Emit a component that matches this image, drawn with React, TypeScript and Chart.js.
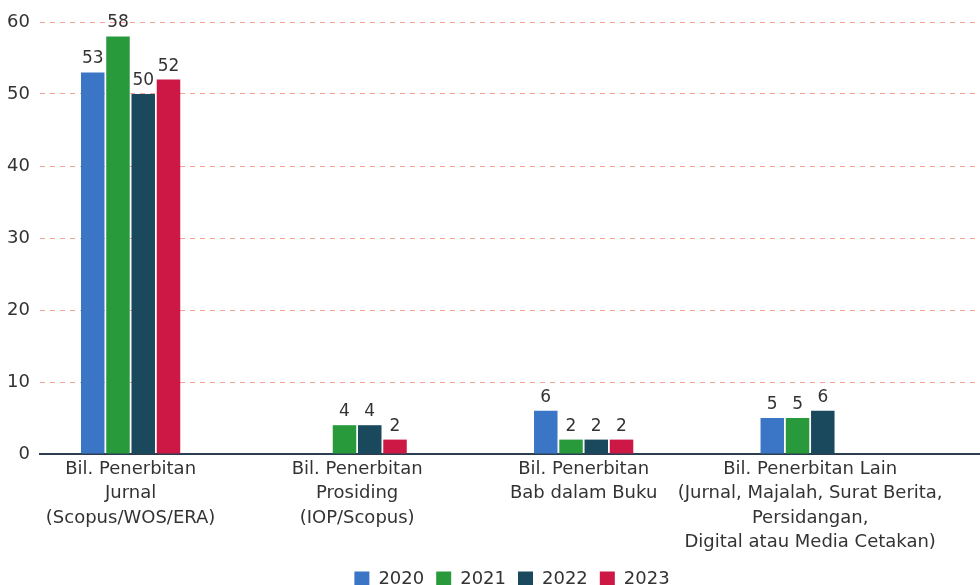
import { useEffect, useRef } from 'react';
import { Chart, registerables } from 'chart.js';

Chart.register(...registerables);

const categories: string[][] = [
  ['Bil. Penerbitan', 'Jurnal', '(Scopus/WOS/ERA)'],
  ['Bil. Penerbitan', 'Prosiding', '(IOP/Scopus)'],
  ['Bil. Penerbitan', 'Bab dalam Buku'],
  ['Bil. Penerbitan Lain', '(Jurnal, Majalah, Surat Berita,', 'Persidangan,', 'Digital atau Media Cetakan)'],
];
const years = ['2020', '2021', '2022', '2023'];
const values2020 = [53, 0, 6, 5];
const values2021 = [58, 4, 2, 5];
const values2022 = [50, 4, 2, 6];
const values2023 = [52, 2, 2, 0];
const seriesValues = [values2020, values2021, values2022, values2023];
const colors = ['#3b75c5', '#289a3c', '#1a495d', '#cd1745'];

const FONT = '"DejaVu Sans", sans-serif';
const TEXT = '#333333';

const valueLabels = {
  id: 'valueLabels',
  afterDatasetsDraw(chart: any) {
    const ctx = chart.ctx;
    ctx.save();
    ctx.font = `17px ${FONT}`;
    ctx.fillStyle = TEXT;
    ctx.textAlign = 'center';
    ctx.textBaseline = 'alphabetic';
    chart.data.datasets.forEach((ds: any, di: number) => {
      const meta = chart.getDatasetMeta(di);
      if (meta.hidden) return;
      meta.data.forEach((el: any, i: number) => {
        const v = ds.data[i].y;
        if (!v) return;
        ctx.fillText(String(v), el.x, el.y - 9);
      });
    });
    ctx.restore();
  },
};

export default function App() {
  const ref = useRef<HTMLCanvasElement>(null);

  useEffect(() => {
    if (!ref.current) return;
    Chart.defaults.font.family = FONT;
    const chart = new Chart(ref.current, {
      type: 'bar',
      data: {
        datasets: years.map((y, di) => ({
          label: y,
          data: seriesValues[di].map((v, i) => ({ x: i, y: v })),
          backgroundColor: colors[di],
          borderWidth: 0,
          categoryPercentage: 0.446,
          barPercentage: 0.93,
        })),
      },
      options: {
        responsive: false,
        animation: false,
        devicePixelRatio: 1,
        layout: { padding: { top: 22, left: 0, right: 0, bottom: 2 } },
        plugins: {
          tooltip: { enabled: false },
          legend: {
            position: 'bottom',
            labels: {
              boxWidth: 15,
              boxHeight: 15,
              padding: 12,
              color: TEXT,
              font: { size: 18, family: FONT },
            },
          },
        },
        scales: {
          x: {
            type: 'linear',
            offset: false,
            min: -0.4,
            max: 3.944,
            afterBuildTicks: (scale: any) => {
              scale.ticks = categories.map((_, i) => ({ value: i }));
            },
            afterFit: (scale: any) => {
              scale.height = 104;
            },
            grid: { display: false, drawTicks: false },
            border: { display: true, color: '#2c3e50', width: 2 },
            ticks: {
              autoSkip: false,
              maxRotation: 0,
              minRotation: 0,
              padding: 3,
              color: TEXT,
              font: { size: 18, family: FONT, lineHeight: 1.36 },
              callback: (v: any) => categories[v as number] ?? '',
            },
          },
          y: {
            min: 0,
            max: 60,
            afterFit: (scale: any) => {
              scale.width = 40;
            },
            grid: {
              drawTicks: false,
              color: (c: any) => (c.tick && c.tick.value === 0 ? 'rgba(0,0,0,0)' : '#f6a495'),
              lineWidth: 1,
            },
            border: { display: false, dash: [5, 5] },
            ticks: {
              stepSize: 10,
              padding: 10,
              color: TEXT,
              font: { size: 18, family: FONT },
            },
          },
        },
      },
      plugins: [valueLabels],
    } as any);
    return () => chart.destroy();
  }, []);

  return (
    <div style={{ position: 'absolute', left: 0, top: 0, width: 980, height: 585, overflow: 'hidden', background: '#fff' }}>
      <canvas ref={ref} width={1024} height={600} style={{ display: 'block' }} />
    </div>
  );
}
